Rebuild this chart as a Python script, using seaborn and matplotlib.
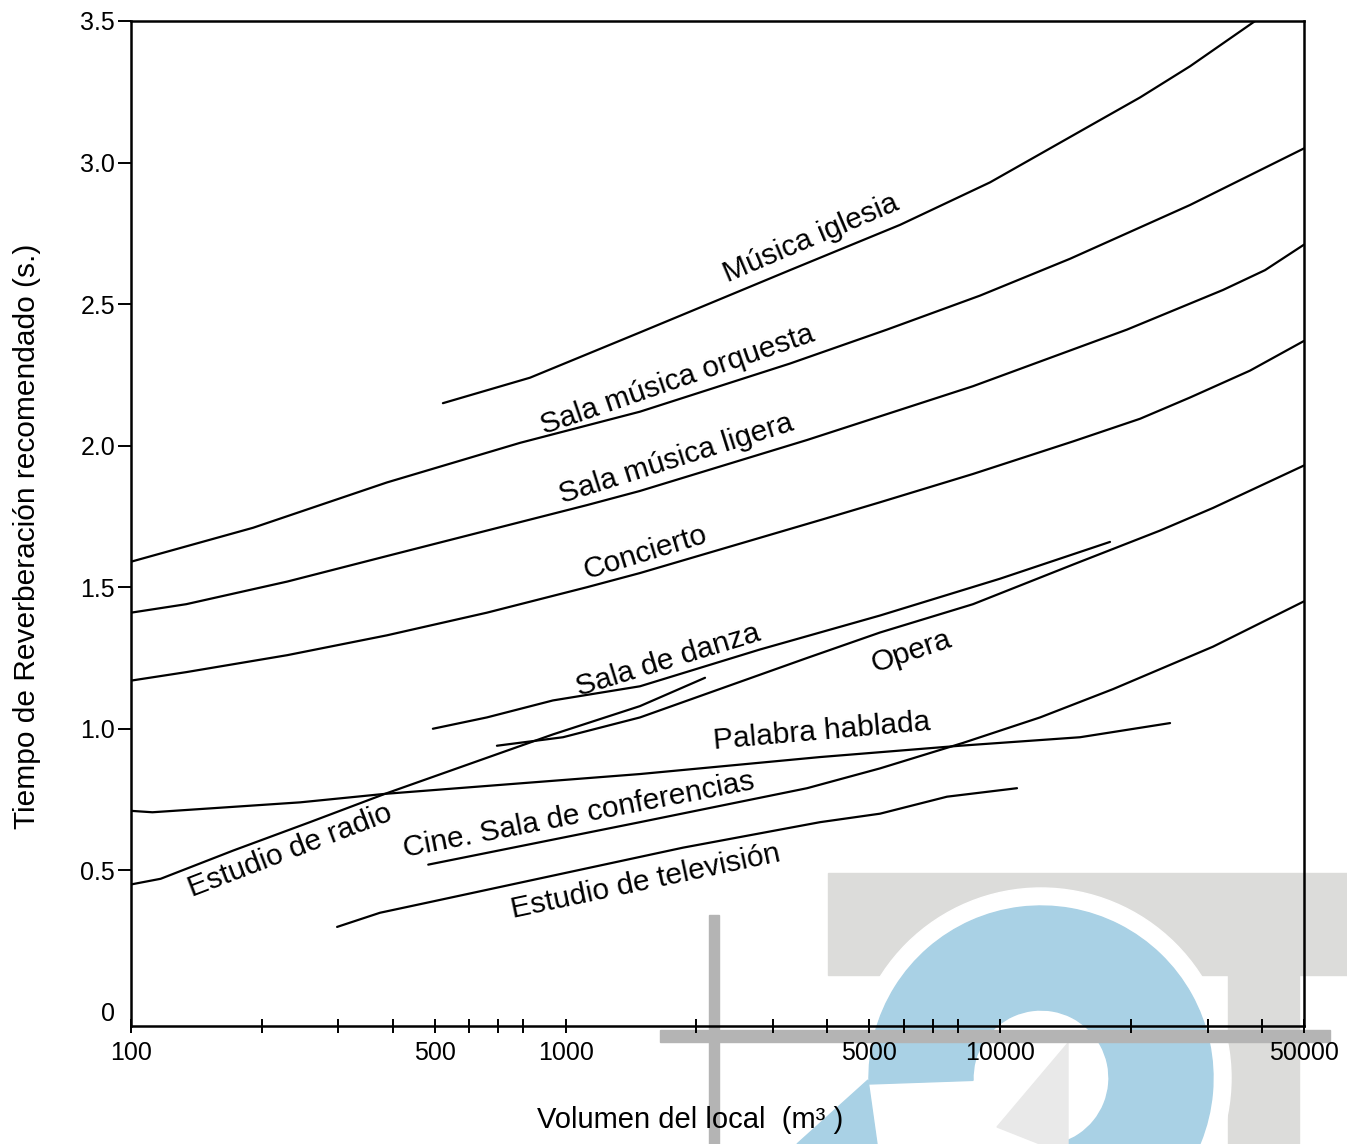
import numpy as np
import pandas as pd
import matplotlib
matplotlib.use("Agg")
import matplotlib.pyplot as plt
from matplotlib.patches import Rectangle, Circle, Wedge, Polygon
from matplotlib.transforms import Affine2D
from matplotlib.ticker import NullFormatter, NullLocator
import seaborn as sns

# Tiempo de reverberación recomendado (s) frente a volumen del local (m3)
iglesia_vol = [522, 828, 1483, 2207, 3283, 5884, 9474, 13020, 16090, 20980, 27330, 38600]
iglesia_t = [2.15, 2.24, 2.40, 2.51, 2.62, 2.78, 2.93, 3.05, 3.13, 3.23, 3.34, 3.50]

orquesta_vol = [100, 191, 388, 786, 1483, 3283, 5490, 8985, 14470, 27330, 50000]
orquesta_t = [1.59, 1.71, 1.87, 2.01, 2.12, 2.29, 2.41, 2.53, 2.66, 2.85, 3.05]

ligera_vol = [100, 134, 229, 388, 659, 1120, 1483, 3594, 8657, 19580, 32560, 40680,
              50000]
ligera_t = [1.41, 1.44, 1.52, 1.61, 1.70, 1.79, 1.84, 2.02, 2.21, 2.41, 2.55, 2.62,
            2.71]

concierto_vol = [100, 134, 229, 388, 659, 1120, 1483, 3912, 5290, 8657, 14710, 20980,
                 27330, 37560, 50000]
concierto_t = [1.17, 1.20, 1.26, 1.33, 1.41, 1.50, 1.55, 1.74, 1.80, 1.90, 2.015, 2.095,
               2.17, 2.265, 2.37]

danza_vol = [495, 659, 935, 1483, 2801, 5290, 9990, 17890]
danza_t = [1.00, 1.04, 1.10, 1.15, 1.28, 1.40, 1.53, 1.66]

opera_vol = [695, 986, 1483, 3594, 5290, 8657, 14710, 23320, 30880, 50000]
opera_t = [0.94, 0.97, 1.04, 1.25, 1.34, 1.44, 1.58, 1.70, 1.78, 1.93]

radio_vol = [100, 117, 172, 258, 384, 935, 1483, 2093]
radio_t = [0.45, 0.47, 0.57, 0.67, 0.77, 0.98, 1.08, 1.18]

palabra_vol = [100, 112, 245, 384, 1483, 3850, 8081, 15260, 24590]
palabra_t = [0.71, 0.705, 0.74, 0.77, 0.84, 0.90, 0.94, 0.97, 1.02]

cine_vol = [483, 1483, 3594, 5290, 8211, 12350, 18180, 30880, 50000]
cine_t = [0.52, 0.67, 0.79, 0.86, 0.95, 1.04, 1.14, 1.29, 1.45]

tele_vol = [298, 374, 495, 1863, 3850, 5290, 7544, 10930]
tele_t = [0.30, 0.35, 0.39, 0.58, 0.67, 0.70, 0.76, 0.79]

series = {
    "Música iglesia": (iglesia_vol, iglesia_t),
    "Sala música orquesta": (orquesta_vol, orquesta_t),
    "Sala música ligera": (ligera_vol, ligera_t),
    "Concierto": (concierto_vol, concierto_t),
    "Sala de danza": (danza_vol, danza_t),
    "Opera": (opera_vol, opera_t),
    "Estudio de radio": (radio_vol, radio_t),
    "Palabra hablada": (palabra_vol, palabra_t),
    "Cine. Sala de conferencias": (cine_vol, cine_t),
    "Estudio de televisión": (tele_vol, tele_t),
}

# curve labels: (text, volumen, tiempo, angle)
curve_labels = [
    ("Música iglesia", 3670, 2.733, 23),
    ("Sala música orquesta", 1804, 2.232, 19),
    ("Sala música ligera", 1795, 1.953, 17.5),
    ("Concierto", 1523, 1.621, 17),
    ("Sala de danza", 1720, 1.243, 17),
    ("Opera", 6233, 1.271, 18.5),
    ("Palabra hablada", 3890, 0.989, 5),
    ("Cine. Sala de conferencias", 1074, 0.696, 11),
    ("Estudio de televisión", 1531, 0.459, 12),
    ("Estudio de radio", 232, 0.569, 21),
]

x_major = [100, 500, 1000, 5000, 10000, 50000]
x_major_labels = ["100", "500", "1000", "5000", "10000", "50000"]
x_minor = [200, 300, 400, 600, 700, 800, 2000, 3000, 4000, 6000, 7000, 8000,
           20000, 30000, 40000]
y_ticks = [0, 0.5, 1.0, 1.5, 2.0, 2.5, 3.0, 3.5]
y_tick_labels = ["0", "0.5", "1.0", "1.5", "2.0", "2.5", "3.0", "3.5"]

rows = []
for name, (vol, t) in series.items():
    for v, tt in zip(vol, t):
        rows.append({"uso": name, "volumen": v, "tiempo": tt})
df = pd.DataFrame(rows)

sns.set_style("white")
plt.rcParams["font.family"] = ["Liberation Sans", "DejaVu Sans"]

W, H = 1347, 1144
fig = plt.figure(figsize=(W / 100, H / 100), dpi=100, facecolor="white")

# background emblem, drawn in pixel units from the top-left corner
pix = Affine2D().scale(1 / 100, -1 / 100).translate(0, H / 100) + fig.dpi_scale_trans
light_gray = "#dcdcda"
bar_gray = "#b4b4b4"
blue = "#a9d1e5"
emblem = [
    Rectangle((828, 873), W - 828, 102, color=light_gray),
    Rectangle((1228, 975), 71, H - 975, color=light_gray),
    Circle((1041, 1078), 190, color="white"),
    Wedge((1041, 1078), 172, -182, 90, width=104, color=blue),
    Polygon([(868, 1080), (797, H), (877, H)], closed=True, color=blue),
    Polygon([(1068, 1043), (997, 1127), (1040, H), (1068, H)], closed=True,
            color="#e9e9e9"),
    Rectangle((709, 915), 10, H - 915, color=bar_gray),
    Rectangle((660, 1030), 670, 12, color=bar_gray),
]
for p in emblem:
    p.set_transform(pix)
    p.set_zorder(-5)
    fig.add_artist(p)

ax = fig.add_axes([131 / W, 1 - 1026 / H, 1173 / W, 1005 / H])
ax.set_facecolor("none")
ax.set_xscale("log")

sns.lineplot(data=df, x="volumen", y="tiempo", hue="uso",
             palette={k: "black" for k in series}, estimator=None, sort=False,
             legend=False, linewidth=1.6, ax=ax)

ax.set_xlim(100, 50000)
ax.set_ylim(-0.05, 3.5)

ax.set_xticks(x_major)
ax.set_xticklabels(x_major_labels)
ax.set_xticks(x_minor, minor=True)
ax.xaxis.set_minor_formatter(NullFormatter())
ax.set_yticks(y_ticks)
ax.set_yticklabels(y_tick_labels)
ax.yaxis.set_minor_locator(NullLocator())

ax.tick_params(axis="x", which="both", direction="inout", length=10, width=1.4,
               pad=6, labelsize=18, colors="black", bottom=True, top=False)
ax.tick_params(axis="y", which="major", direction="out", length=9.4, width=1.4,
               pad=2, labelsize=18, colors="black", left=True, right=False)
ax.yaxis.get_major_ticks()[0].tick1line.set_visible(False)

for s in ax.spines.values():
    s.set_visible(True)
    s.set_color("black")
    s.set_linewidth(1.8)

ax.set_xlabel("")
ax.set_ylabel("")

for text, vx, ty, ang in curve_labels:
    ax.text(vx, ty, text, rotation=ang, rotation_mode="anchor", ha="center",
            va="center", fontsize=21.5, color="black")

fig.text(690 / W, 1 - 1128 / H, "Volumen del local  (m³ )", ha="center",
         va="baseline", fontsize=21, color="black")
fig.text(27 / W, 1 - 536 / H, "Tiempo de Reverberación recomendado (s.)",
         ha="center", va="center", rotation=90, fontsize=21.5, color="black")

fig.savefig("out.png", dpi=100, facecolor="white")
